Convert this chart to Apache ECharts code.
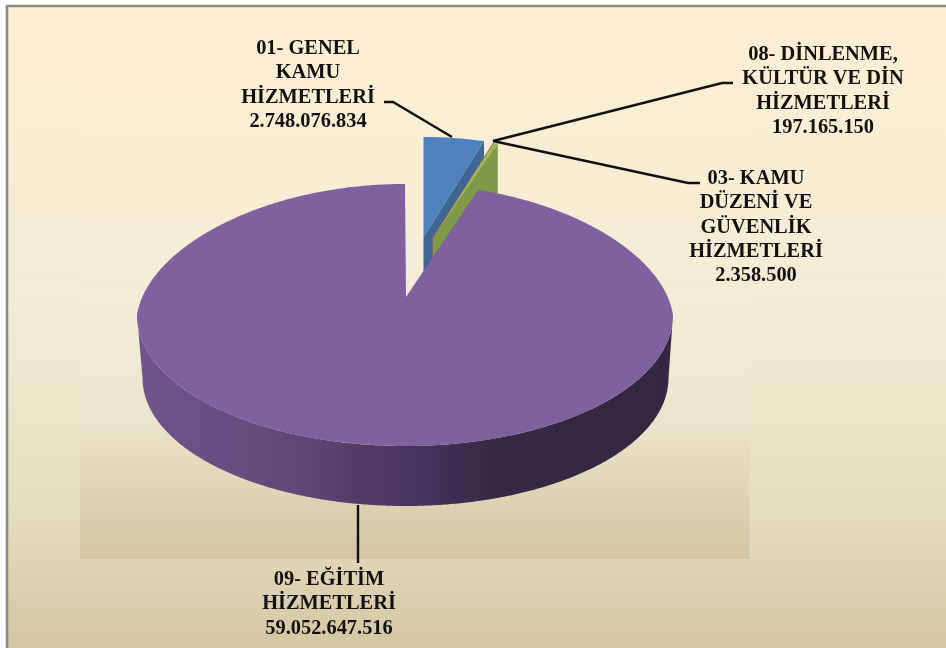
<!DOCTYPE html>
<html>
<head>
<meta charset="utf-8">
<style>html,body{margin:0;padding:0;background:#fff}#c{width:946px;height:648px}</style>
<script src="https://cdn.jsdelivr.net/npm/echarts@6/dist/echarts.min.js"></script>
</head>
<body>
<div id="c"></div>
<script>
// ---- data ----
var categories = [
  '01- GENEL\nKAMU\nHİZMETLERİ',
  '03- KAMU\nDÜZENİ VE\nGÜVENLİK\nHİZMETLERİ',
  '08- DİNLENME,\nKÜLTÜR VE DİN\nHİZMETLERİ',
  '09- EĞİTİM\nHİZMETLERİ'
];
var values = [2748076834, 2358500, 197165150, 59052647516];

// ---- presentation of each slice (3D projection, colours, label anchors) ----
var looks = [
  {cx:423.5, cy:244, rx:220, ry:107, p:0, ax:423.5, ay:237, depth:49, top:'#4F81BD', wall:'#3E6796',
   lx:308, ly:36.5, line:[[384,102],[393,102],[452,137]]},
  {cx:433, cy:246, rx:220, ry:107, p:0, ax:433, ay:238, depth:49, top:'#C0504D', wall:'#B0663F',
   lx:756, ly:166.5, line:[[700,183],[688,183],[493,141]]},
  {cx:433, cy:246, rx:220, ry:107, p:0, ax:433, ay:238, depth:49, top:'#9BBB59', wall:'#7E9A48',
   lx:823, ly:42.5, line:[[733,83],[722,83],[493,141]]},
  {cx:405, cy:315, rx:268, ry:131, p:0.076, ax:406, ay:297, depth:0, top:'#7F619F', wall:null,
   bottom:{cx:405.5, cy:378, rx:263, ry:128, p:0},
   lx:329, ly:567.5, line:[[358,505],[358,563]]}
];

var total = values.reduce(function (a, b) { return a + b; }, 0);
var starts = [];
values.reduce(function (acc, v, i) { starts[i] = acc; return acc + v; }, 0);

function rimPoint(e, deg) {
  var t = deg * Math.PI / 180, c = Math.cos(t);
  var f = 1 - e.p * Math.max(0, c);
  return [e.cx + e.rx * f * Math.sin(t), e.cy - e.ry * c];
}
function arc(e, a, b) {
  var pts = [], n = Math.max(2, Math.ceil(Math.abs(b - a) * 2));
  for (var i = 0; i <= n; i++) pts.push(rimPoint(e, a + (b - a) * i / n));
  return pts;
}
function fmt(v) { return String(v).replace(/\B(?=(\d{3})+(?!\d))/g, '.'); }

function renderSlice(params, api) {
  var i = params.dataIndex, v = api.value(0), k = looks[i];
  var a0 = starts[i] / total * 360, a1 = (starts[i] + v) / total * 360;
  var kids = [];
  if (k.bottom) {
    var wall = arc(k, 90, 270).concat(arc(k.bottom, 270, 90));
    kids.push({type:'polygon', shape:{points:wall}, style:{
      fill:{type:'linear', x:0, y:0, x2:1, y2:0, colorStops:[
        {offset:0, color:'#6F558C'},{offset:0.3, color:'#5E4878'},{offset:0.42, color:'#523C66'},
        {offset:0.55, color:'#43325A'},{offset:0.66, color:'#352A44'},{offset:1, color:'#32283F'}]}
    }});
  } else {
    var p = rimPoint(k, a1);
    kids.push({type:'polygon', shape:{points:[p,[k.ax,k.ay],[k.ax,k.ay+k.depth],[p[0],p[1]+k.depth]]},
      style:{fill:k.wall, stroke:k.wall, lineWidth: v/total < 0.001 ? 1 : 0}});
  }
  var face = [[k.ax,k.ay]].concat(arc(k, a0, a1));
  kids.push({type:'polygon', shape:{points:face}, style:{fill:k.top, stroke:k.top, lineWidth: v/total < 0.001 ? 1 : 0}});
  kids.push({type:'polyline', z2:5, shape:{points:k.line}, style:{fill:null, stroke:'#111', lineWidth:2.4}});
  kids.push({type:'text', z2:6, x:k.lx, y:k.ly, style:{
    text:categories[i] + '\n' + fmt(v), align:'center', verticalAlign:'top',
    font:'bold 20.4px "Liberation Serif"', lineHeight:24.3, fill:'#111'}});
  return {type:'group', children:kids};
}

var chart = echarts.init(document.getElementById('c'), null, {renderer:'canvas'});
chart.setOption({
  animation:false,
  backgroundColor:'#fff',
  graphic:[
    {type:'rect', z:-2, shape:{x:7,y:6,width:945,height:648}, style:{
      stroke:'#8A8A8A', lineWidth:2.6,
      fill:{type:'linear',x:0,y:0,x2:0,y2:1,colorStops:[
        {offset:0,color:'#FEEFD3'},{offset:0.45,color:'#F3ECD6'},{offset:0.78,color:'#E5DDC0'},{offset:1,color:'#D2C5A1'}]}}},
    {type:'rect', z:-1, shape:{x:80,y:10,width:669.5,height:549}, style:{
      fill:{type:'linear',x:0,y:0,x2:0,y2:1,colorStops:[
        {offset:0,color:'#FEEFD3'},{offset:0.53,color:'#F3ECD6'},{offset:0.6,color:'#F1EBD5'},{offset:0.75,color:'#EBE3CC'},{offset:0.84,color:'#E2D9BC'},{offset:1,color:'#D1C4A1'}]}}}
  ],
  series:[{
    type:'custom',
    coordinateSystem:'none',
    silent:true,
    clip:false,
    data:values.map(function (v) { return [v]; }),
    renderItem:renderSlice
  }]
});
</script>
</body>
</html>
